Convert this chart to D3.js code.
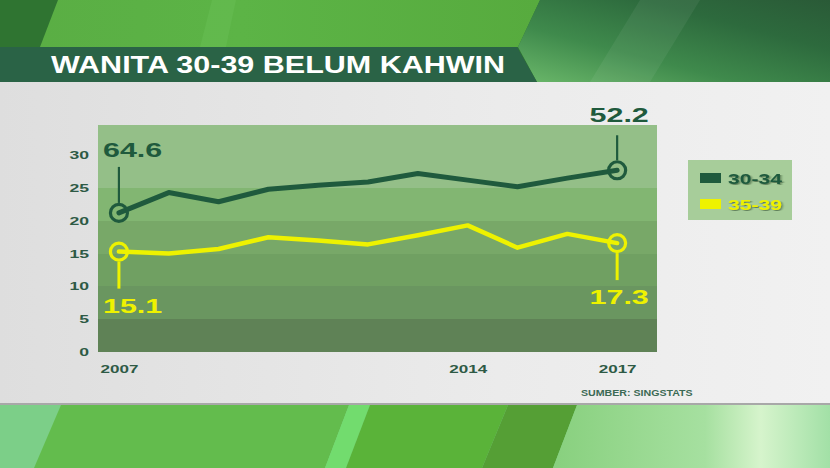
<!DOCTYPE html>
<html>
<head>
<meta charset="utf-8">
<script src="https://cdn.jsdelivr.net/npm/d3@7"></script>
<style>
  html, body { margin: 0; padding: 0; background: #e4e4e4; }
  svg { display: block; font-family: 'Liberation Sans', Arial, sans-serif; }
</style>
</head>
<body>
<div id="chart-area"></div>
<script>
var years = [2007, 2008, 2009, 2010, 2011, 2012, 2013, 2014, 2015, 2016, 2017]
var series3034 = [21.2, 24.3, 22.9, 24.8, 25.4, 25.9, 27.2, 26.2, 25.2, 26.5, 27.7]
var series3539 = [15.3, 15.0, 15.7, 17.5, 17.0, 16.4, 17.8, 19.3, 15.9, 18.0, 16.6]
var seriesNames = ['30-34', '35-39']
var yTicks = [0, 5, 10, 15, 20, 25, 30]
var xTicks = [2007, 2014, 2017]
var annotations = [
  { year: 2007, series: 0, text: '64.6', side: 'up', anchor: 'start' },
  { year: 2007, series: 1, text: '15.1', side: 'down', anchor: 'start' },
  { year: 2017, series: 0, text: '52.2', side: 'up', anchor: 'middle' },
  { year: 2017, series: 1, text: '17.3', side: 'down', anchor: 'middle' }
]
var titleText = 'WANITA 30-39 BELUM KAHWIN'
var sourceText = 'SUMBER: SINGSTATS'

var W = 830
var H = 468
var colors = ['#1f5a3d', '#eef200']
var bandColors = ['#5f8256', '#6a9660', '#70a062', '#78a868', '#82b672', '#94bf88']
var textScale = 1.45

var plot = { left: 98, right: 657, top: 125, bottom: 352 }

var x = d3.scaleLinear()
  .domain([2006.58, 2017.8])
  .range([plot.left, plot.right])
var y = d3.scaleLinear()
  .domain([0, 34.6])
  .range([plot.bottom, plot.top])

var svg = d3.select('#chart-area')
  .append('svg')
  .attr('width', W)
  .attr('height', H)
  .attr('viewBox', '0 0 ' + W + ' ' + H)

var defs = svg.append('defs')

function linearGradient (id, x1, y1, x2, y2, stops) {
  var g = defs.append('linearGradient')
    .attr('id', id)
    .attr('x1', x1).attr('y1', y1)
    .attr('x2', x2).attr('y2', y2)
  stops.forEach(function (s) {
    g.append('stop').attr('offset', s[0]).attr('stop-color', s[1])
  })
}

linearGradient('panel-grad', '0', '0', '1', '0', [['0', '#dedede'], ['0.6', '#ebebeb'], ['1', '#f1f1f1']])
linearGradient('top-right-grad', '0', '1', '1', '0', [['0', '#6bb86a'], ['0.35', '#3f8a4c'], ['0.7', '#2d6a3d'], ['1', '#2a5a37']])
linearGradient('top-bright-grad', '0', '0', '1', '0', [['0', '#5aae44'], ['0.4', '#5cb446'], ['1', '#57ab3e']])
linearGradient('bottom-right-grad', '0', '0', '1', '0', [['0', '#88d07e'], ['0.55', '#a6e0a0'], ['0.75', '#d6f4cc'], ['1', '#a2e0a6']])

var shadow = defs.append('filter')
  .attr('id', 'text-shadow')
  .attr('x', '-20%').attr('y', '-20%')
  .attr('width', '140%').attr('height', '140%')
shadow.append('feDropShadow')
  .attr('dx', 1).attr('dy', 1)
  .attr('stdDeviation', 0.6)
  .attr('flood-color', '#1c3a20')
  .attr('flood-opacity', 0.55)

// background: top strip
var bg = svg.append('g').attr('class', 'background')
bg.append('rect').attr('x', 0).attr('y', 0).attr('width', W).attr('height', 82).attr('fill', '#2f7431')
bg.append('path').attr('d', 'M58,0 L540,0 L518,47 L40,47 Z').attr('fill', 'url(#top-bright-grad)')
bg.append('path').attr('d', 'M212,0 L236,0 L226,47 L200,47 Z').attr('fill', '#66bd52').attr('opacity', 0.6)
bg.append('path').attr('d', 'M540,0 L830,0 L830,82 L537,82 L518,47 Z').attr('fill', 'url(#top-right-grad)')
bg.append('path').attr('d', 'M640,0 L700,0 L650,82 L590,82 Z').attr('fill', '#ffffff').attr('opacity', 0.06)
bg.append('path').attr('d', 'M0,47 L517,47 L537,82 L0,82 Z').attr('fill', '#2a6346')

// background: bottom strip
bg.append('rect').attr('x', 0).attr('y', 405).attr('width', W).attr('height', 63).attr('fill', '#7ccf88')
bg.append('path').attr('d', 'M61,405 L349,405 L325,468 L34,468 Z').attr('fill', '#63bc4d')
bg.append('path').attr('d', 'M349,405 L370,405 L346,468 L325,468 Z').attr('fill', '#72dc6e')
bg.append('path').attr('d', 'M370,405 L508,405 L482,468 L346,468 Z').attr('fill', '#5ab339')
bg.append('path').attr('d', 'M508,405 L577,405 L553,468 L482,468 Z').attr('fill', '#559f35')
bg.append('path').attr('d', 'M577,405 L830,405 L830,468 L553,468 Z').attr('fill', 'url(#bottom-right-grad)')

// grey panel
bg.append('rect').attr('x', 0).attr('y', 82).attr('width', W).attr('height', 323).attr('fill', 'url(#panel-grad)')
bg.append('rect').attr('x', 0).attr('y', 403).attr('width', W).attr('height', 2).attr('fill', '#a8a8a8')

// title
svg.append('text')
  .attr('x', 51)
  .attr('y', 73)
  .attr('fill', '#ffffff')
  .attr('font-size', 24)
  .attr('font-weight', 'bold')
  .attr('textLength', 454)
  .attr('lengthAdjust', 'spacingAndGlyphs')
  .text(titleText)

// plot bands (rounded to whole pixels so no seams show)
var bandStarts = yTicks.slice(0, bandColors.length)
function bandTop (d, i) {
  return Math.round(i === bandStarts.length - 1 ? y.range()[1] : y(d + 5))
}
svg.append('g')
  .attr('class', 'bands')
  .attr('shape-rendering', 'crispEdges')
  .selectAll('rect')
  .data(bandStarts)
  .enter().append('rect')
  .attr('x', plot.left)
  .attr('width', plot.right - plot.left)
  .attr('y', bandTop)
  .attr('height', function (d, i) { return Math.round(y(d)) - bandTop(d, i) })
  .attr('fill', function (d, i) { return bandColors[i] })

// axes
var yAxis = svg.append('g')
  .attr('transform', 'translate(' + plot.left + ',0)')
  .call(d3.axisLeft(y).tickValues(yTicks).tickSize(0).tickPadding(5.6))
yAxis.select('.domain').remove()
yAxis.selectAll('text')
  .attr('font-family', 'Liberation Sans, Arial, sans-serif')
  .attr('font-size', 11)
  .attr('font-weight', 'bold')
  .attr('fill', '#2e5a45')
  .attr('transform', 'scale(1.6,1)')

var xAxis = svg.append('g')
  .attr('transform', 'translate(0,' + plot.bottom + ')')
  .call(d3.axisBottom(x).tickValues(xTicks).tickFormat(d3.format('d')).tickSize(0).tickPadding(13))
xAxis.select('.domain').remove()
xAxis.selectAll('text')
  .attr('font-family', 'Liberation Sans, Arial, sans-serif')
  .attr('font-size', 11)
  .attr('font-weight', 'bold')
  .attr('fill', '#2e5a45')
  .attr('transform', 'scale(1.55,1)')

// lines
var allSeries = [series3034, series3539]
var line = d3.line()
  .x(function (d, i) { return x(years[i]) })
  .y(function (d) { return y(d) })

svg.append('g')
  .attr('class', 'lines')
  .selectAll('path')
  .data(allSeries)
  .enter().append('path')
  .attr('d', line)
  .attr('fill', 'none')
  .attr('stroke', function (d, i) { return colors[i] })
  .attr('stroke-width', function (d, i) { return i === 0 ? 5 : 4.5 })
  .attr('stroke-linejoin', 'round')
  .attr('stroke-linecap', 'round')

// annotations
var ann = svg.append('g')
  .attr('class', 'annotations')
  .selectAll('g')
  .data(annotations)
  .enter().append('g')

function annPoint (d) {
  var idx = years.indexOf(d.year)
  return { cx: x(d.year), cy: y(allSeries[d.series][idx]) }
}

ann.append('line')
  .attr('x1', function (d) { return annPoint(d).cx })
  .attr('x2', function (d) { return annPoint(d).cx })
  .attr('y1', function (d) { return annPoint(d).cy + (d.side === 'up' ? -10 : 10) })
  .attr('y2', function (d) {
    var p = annPoint(d)
    if (d.side === 'up') return d.year === 2007 ? p.cy - 46 : p.cy - 35
    return p.cy + 37
  })
  .attr('stroke', function (d) { return colors[d.series] })
  .attr('stroke-width', function (d) { return d.series === 0 ? 2.2 : 3 })

ann.append('circle')
  .attr('cx', function (d) { return annPoint(d).cx })
  .attr('cy', function (d) { return annPoint(d).cy })
  .attr('r', 8.5)
  .attr('fill', 'none')
  .attr('stroke', function (d) { return colors[d.series] })
  .attr('stroke-width', 3.2)

ann.append('text')
  .attr('transform', function (d) {
    var p = annPoint(d)
    var tx = d.anchor === 'start' ? plot.left + 5 : p.cx + 2
    var ty = d.side === 'up'
      ? (d.year === 2007 ? p.cy - 56 : p.cy - 48)
      : p.cy + 61
    return 'translate(' + tx + ',' + ty + ') scale(' + textScale + ',1)'
  })
  .attr('text-anchor', function (d) { return d.anchor })
  .attr('font-size', 21)
  .attr('font-weight', 'bold')
  .attr('fill', function (d) { return colors[d.series] })
  .text(function (d) { return d.text })

// legend
var legend = svg.append('g').attr('transform', 'translate(688,160)')
legend.append('rect')
  .attr('width', 104)
  .attr('height', 60)
  .attr('fill', '#a7cd9a')

var legendItem = legend.selectAll('g.item')
  .data(seriesNames)
  .enter().append('g')
  .attr('class', 'item')
  .attr('transform', function (d, i) { return 'translate(12,' + (13 + i * 26) + ')' })

legendItem.append('rect')
  .attr('width', 21)
  .attr('height', 10)
  .attr('fill', function (d, i) { return colors[i] })

legendItem.append('text')
  .attr('transform', 'translate(28,10.5) scale(1.36,1)')
  .attr('font-size', 15.5)
  .attr('font-weight', 'bold')
  .attr('fill', function (d, i) { return colors[i] })
  .attr('filter', 'url(#text-shadow)')
  .text(function (d) { return d })

// source
svg.append('text')
  .attr('transform', 'translate(581,396) scale(1.25,1)')
  .attr('font-size', 8.5)
  .attr('font-weight', 'bold')
  .attr('fill', '#3c6a55')
  .text(sourceText)
</script>
</body>
</html>
